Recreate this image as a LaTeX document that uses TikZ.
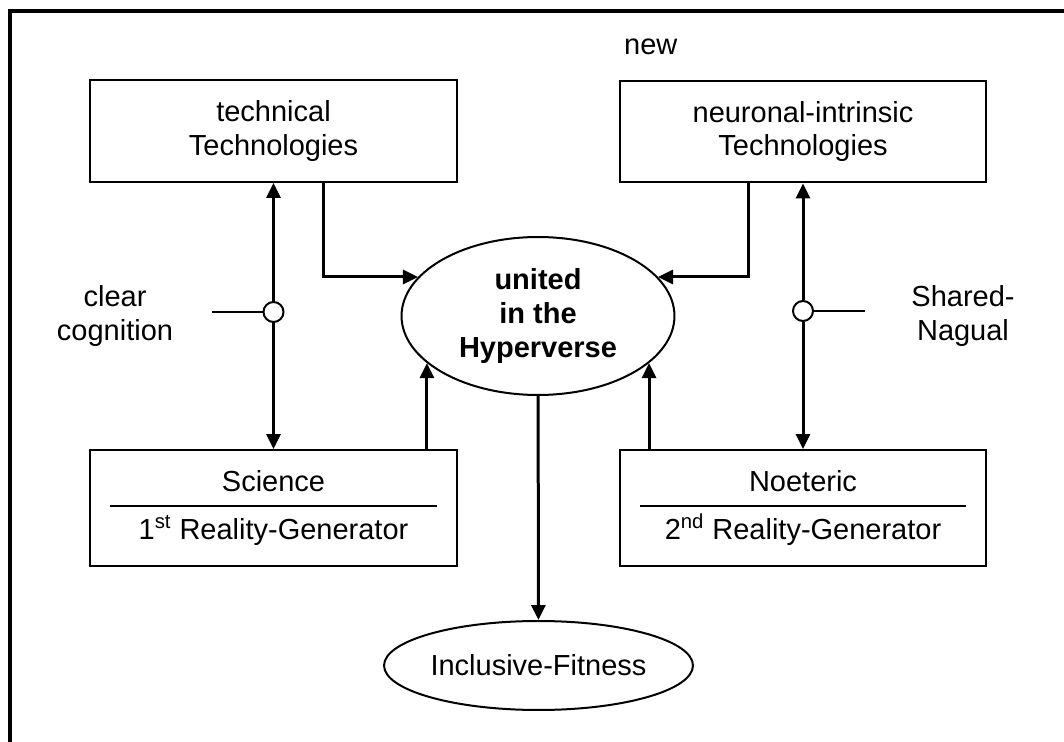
\documentclass[tikz,border=0pt]{standalone}
\usepackage{fontspec}
\setmainfont{Liberation Sans}
\usepackage{tikz}
\usetikzlibrary{arrows.meta,shapes,positioning}
\tikzstyle{arrow}=[-{Triangle[length=0.3cm,width=0.28cm]},line width=0.06cm]
\tikzstyle{techbox}=[rectangle,draw,line width=0.04cm,minimum width=7.34cm,
                     minimum height=2.04cm,align=center,inner sep=0pt]
\tikzstyle{genbox}=[techbox,minimum height=2.32cm]
\tikzstyle{goal}=[ellipse,draw,line width=0.04cm,inner sep=0pt,align=center]
\tikzstyle{joint}=[circle,draw,fill=white,line width=0.04cm,minimum size=0.4cm,inner sep=0pt]
\tikzstyle{line}=[black,line width=0.04cm]
\tikzstyle{label}=[align=center]

\begin{document}
\begin{tikzpicture}[x=0.02cm,y=-0.02cm,
                    font=\fontsize{16.5pt}{18.8pt}\selectfont]
	\useasboundingbox (0,0) rectangle (1064,742);
	\draw [line width=0.08cm] (10,742) -- (10,11.5) -- (1064,11.5);

	\node[techbox] (tech) at (273.5,131) {technical\\Technologies};
	\node[techbox] (neuro) at (803,131.5) {neuronal-intrinsic\\Technologies};
	\node[genbox] (sci) at (273.5,508) {Science\\[8.5pt]1\textsuperscript{st} Reality-Generator};
	\node[genbox] (noe) at (803,508) {Noeteric\\[8.5pt]2\textsuperscript{nd} Reality-Generator};
	\node[goal,minimum width=5.46cm,minimum height=3.16cm,font=\fontsize{16.5pt}{19.3pt}\selectfont\bfseries]
		(hyper) at (538,316) {united\\in the\\Hyperverse};
	\node[goal,minimum width=6.18cm,minimum height=1.78cm] (fit) at (538.5,665.5) {Inclusive-Fitness};
	\node[joint] (jl) at (273.5,312) {};
	\node[joint] (jr) at (803,311) {};
	\coordinate (cl) at (212,312);
	\coordinate (cr) at (865,311);
	\node[label] (clear) at (115,316) {clear\\cognition};
	\node[label] (shared) at (963,316) {Shared-\\Nagual};
	\node[anchor=base west] (new) at (618,55) {new};

	% dividers in the generator boxes
	\draw[line] ([shift={(0.42cm,0.04cm)}]sci.west) -- ([shift={(-0.42cm,0.04cm)}]sci.east);
	\draw[line] ([shift={(0.42cm,0.04cm)}]noe.west) -- ([shift={(-0.42cm,0.04cm)}]noe.east);

	\draw[arrow] (jl) -- (tech);
	\draw[arrow] (jl) -- (sci);
	\draw[arrow] (jr) -- (neuro);
	\draw[arrow] (jr) -- (noe);
	\draw[line] (jl) -- (cl);
	\draw[line] (jr) -- (cr);

	\draw[arrow] ([xshift=1.01cm]tech.south) |- (hyper.162);
	\draw[arrow] ([xshift=-1.1cm]neuro.south) |- (hyper.18);
	\draw[arrow] (sci.north -| hyper.203) -- (hyper.203);
	\draw[arrow] (noe.north -| hyper.337) -- (hyper.337);
	\draw[arrow] (hyper) -- (fit);
\end{tikzpicture}
\end{document}
